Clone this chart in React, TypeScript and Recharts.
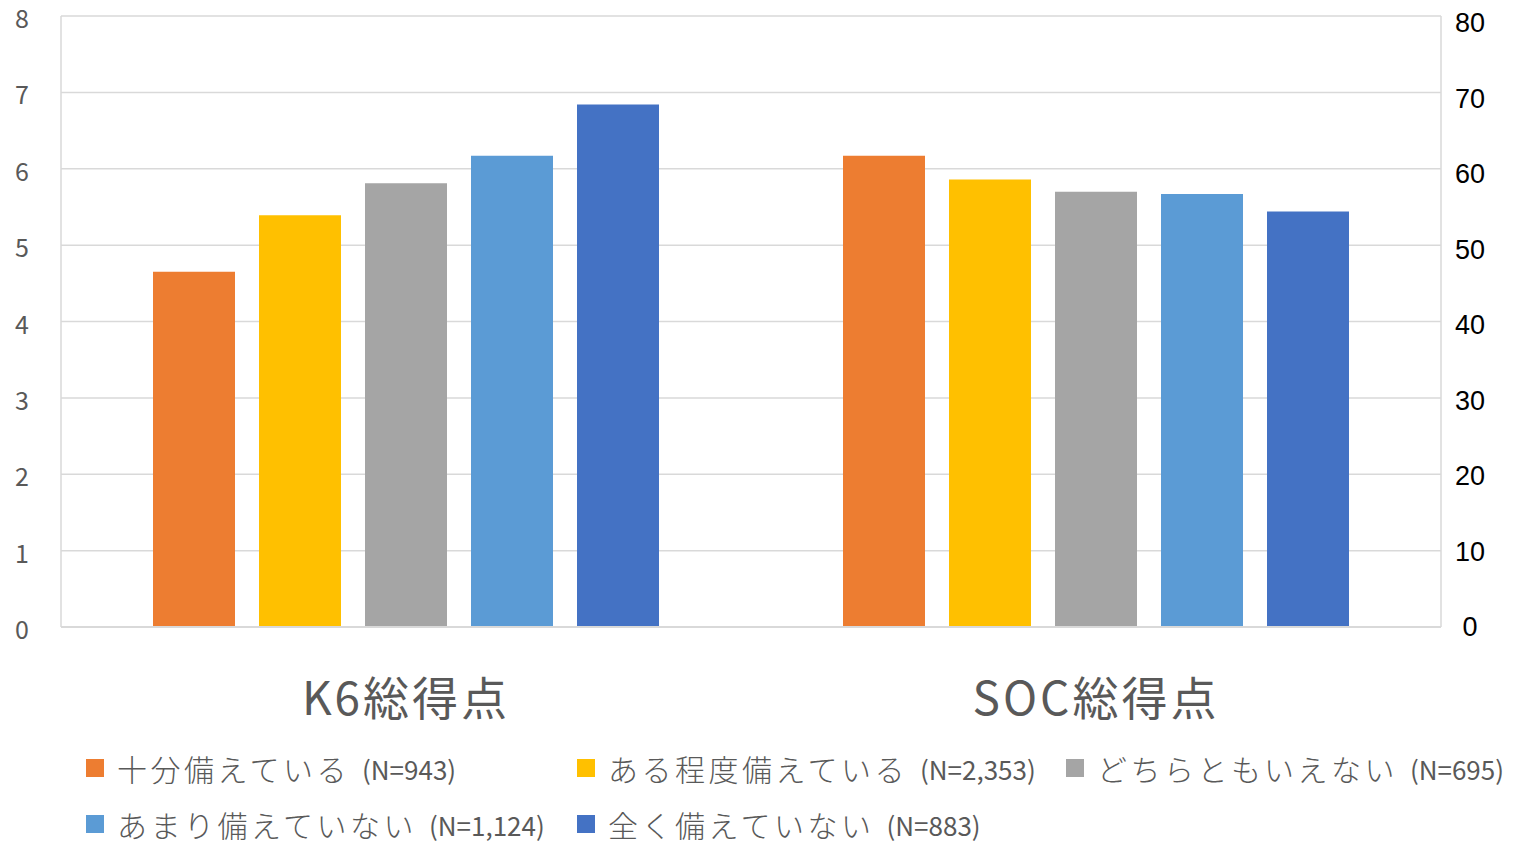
import React from 'react';
import { BarChart, Bar, XAxis, YAxis, CartesianGrid, Legend } from 'recharts';

// categories on the x axis
const categories = ['K6総得点', 'SOC総得点'];

// series (legend entries)
const seriesNames = ['十分備えている', 'ある程度備えている', 'どちらともいえない', 'あまり備えていない', '全く備えていない'];
const seriesCounts = ['(N=943)', '(N=2,353)', '(N=695)', '(N=1,124)', '(N=883)'];
const seriesColors = ['#ED7D31', '#FFC000', '#A5A5A5', '#5B9BD5', '#4472C4'];

// K6 uses the left axis, SOC uses the right axis
const k6Values = [4.65, 5.39, 5.81, 6.17, 6.84];
const socValues = [61.7, 58.6, 57.0, 56.7, 54.4];

const leftTicks = [0, 1, 2, 3, 4, 5, 6, 7, 8];
const rightTicks = [0, 10, 20, 30, 40, 50, 60, 70, 80];

const data = categories.map((category, ci) => {
  const row: Record<string, string | number | null> = { category };
  seriesNames.forEach((_, i) => {
    row[`k6_${i}`] = ci === 0 ? k6Values[i] : null;
    row[`soc_${i}`] = ci === 1 ? socValues[i] : null;
  });
  return row;
});

const FONT = "'Noto Sans CJK JP', 'Noto Sans', sans-serif";

const LeftTick = (props: any) => {
  const { x, y, payload } = props;
  return (
    <text x={x - 39} y={y + 1} textAnchor="middle" dominantBaseline="central" fill="#595959" fontSize={25} fontFamily={FONT}>
      {payload.value}
    </text>
  );
};

const RightTick = (props: any) => {
  const { x, y, payload } = props;
  return (
    <text
      x={x + 29}
      y={y + (payload.value / 80) * 7}
      textAnchor="middle"
      dominantBaseline="central"
      fill="#000000"
      fontSize={27}
      fontFamily="'Liberation Sans', Arial, sans-serif"
    >
      {payload.value}
    </text>
  );
};

const CategoryTick = (props: any) => {
  const { x, y, payload } = props;
  return (
    <text x={x} y={y + 68} textAnchor="middle" dominantBaseline="central" fill="#595959" fontSize={46} letterSpacing={3} fontFamily={FONT}>
      {payload.value}
    </text>
  );
};

const renderLegend = () => (
  <div
    style={{
      height: 109,
      paddingLeft: 86,
      paddingTop: 16,
      boxSizing: 'border-box',
      display: 'grid',
      gridTemplateColumns: '491px 489px 450px',
      gridAutoRows: '30px',
      rowGap: 26,
      fontFamily: FONT,
      color: '#595959',
    }}
  >
    {seriesNames.map((name, i) => (
      <div key={name} style={{ display: 'flex', alignItems: 'center', whiteSpace: 'nowrap', height: 30 }}>
        <span style={{ width: 18, height: 18, background: seriesColors[i], marginRight: 13, flexShrink: 0 }} />
        <span style={{ fontSize: 30, letterSpacing: 3.5, fontWeight: 300 }}>{name}</span>
        <span style={{ fontSize: 26, marginLeft: 12 }}>{seriesCounts[i]}</span>
      </div>
    ))}
  </div>
);

export default function App() {
  return (
    <div style={{ position: 'absolute', left: 0, top: 0, background: '#ffffff', width: 1516, height: 846 }}>
      <BarChart
        width={1516}
        height={846}
        data={data}
        margin={{ top: 16, right: 0, left: 0, bottom: 0 }}
        barCategoryGap={92}
        barGap={24}
      >
        <CartesianGrid yAxisId="left" vertical={false} stroke="#d9d9d9" strokeWidth={1.5} />
        <XAxis
          dataKey="category"
          height={110}
          tickLine={false}
          tickSize={0}
          tickMargin={0}
          axisLine={{ stroke: '#d9d9d9', strokeWidth: 2 }}
          tick={<CategoryTick />}
          interval={0}
        />
        <YAxis
          yAxisId="left"
          width={61}
          domain={[0, 8]}
          ticks={leftTicks}
          interval={0}
          tickLine={false}
          tickSize={0}
          tickMargin={0}
          axisLine={{ stroke: '#d9d9d9', strokeWidth: 1.5 }}
          tick={<LeftTick />}
        />
        <YAxis
          yAxisId="right"
          orientation="right"
          width={75}
          domain={[0, 80]}
          ticks={rightTicks}
          interval={0}
          tickLine={false}
          tickSize={0}
          tickMargin={0}
          axisLine={{ stroke: '#d9d9d9', strokeWidth: 1.5 }}
          tick={<RightTick />}
        />
        <Legend verticalAlign="bottom" align="left" content={renderLegend} wrapperStyle={{ left: 0, width: 1516 }} />
        {seriesNames.map((name, i) => (
          <Bar
            key={`k6_${i}`}
            name={name}
            dataKey={`k6_${i}`}
            yAxisId="left"
            stackId={`g${i}`}
            fill={seriesColors[i]}
            isAnimationActive={false}
          />
        ))}
        {seriesNames.map((name, i) => (
          <Bar
            key={`soc_${i}`}
            name={name}
            dataKey={`soc_${i}`}
            yAxisId="right"
            stackId={`g${i}`}
            fill={seriesColors[i]}
            legendType="none"
            isAnimationActive={false}
          />
        ))}
      </BarChart>
    </div>
  );
}
